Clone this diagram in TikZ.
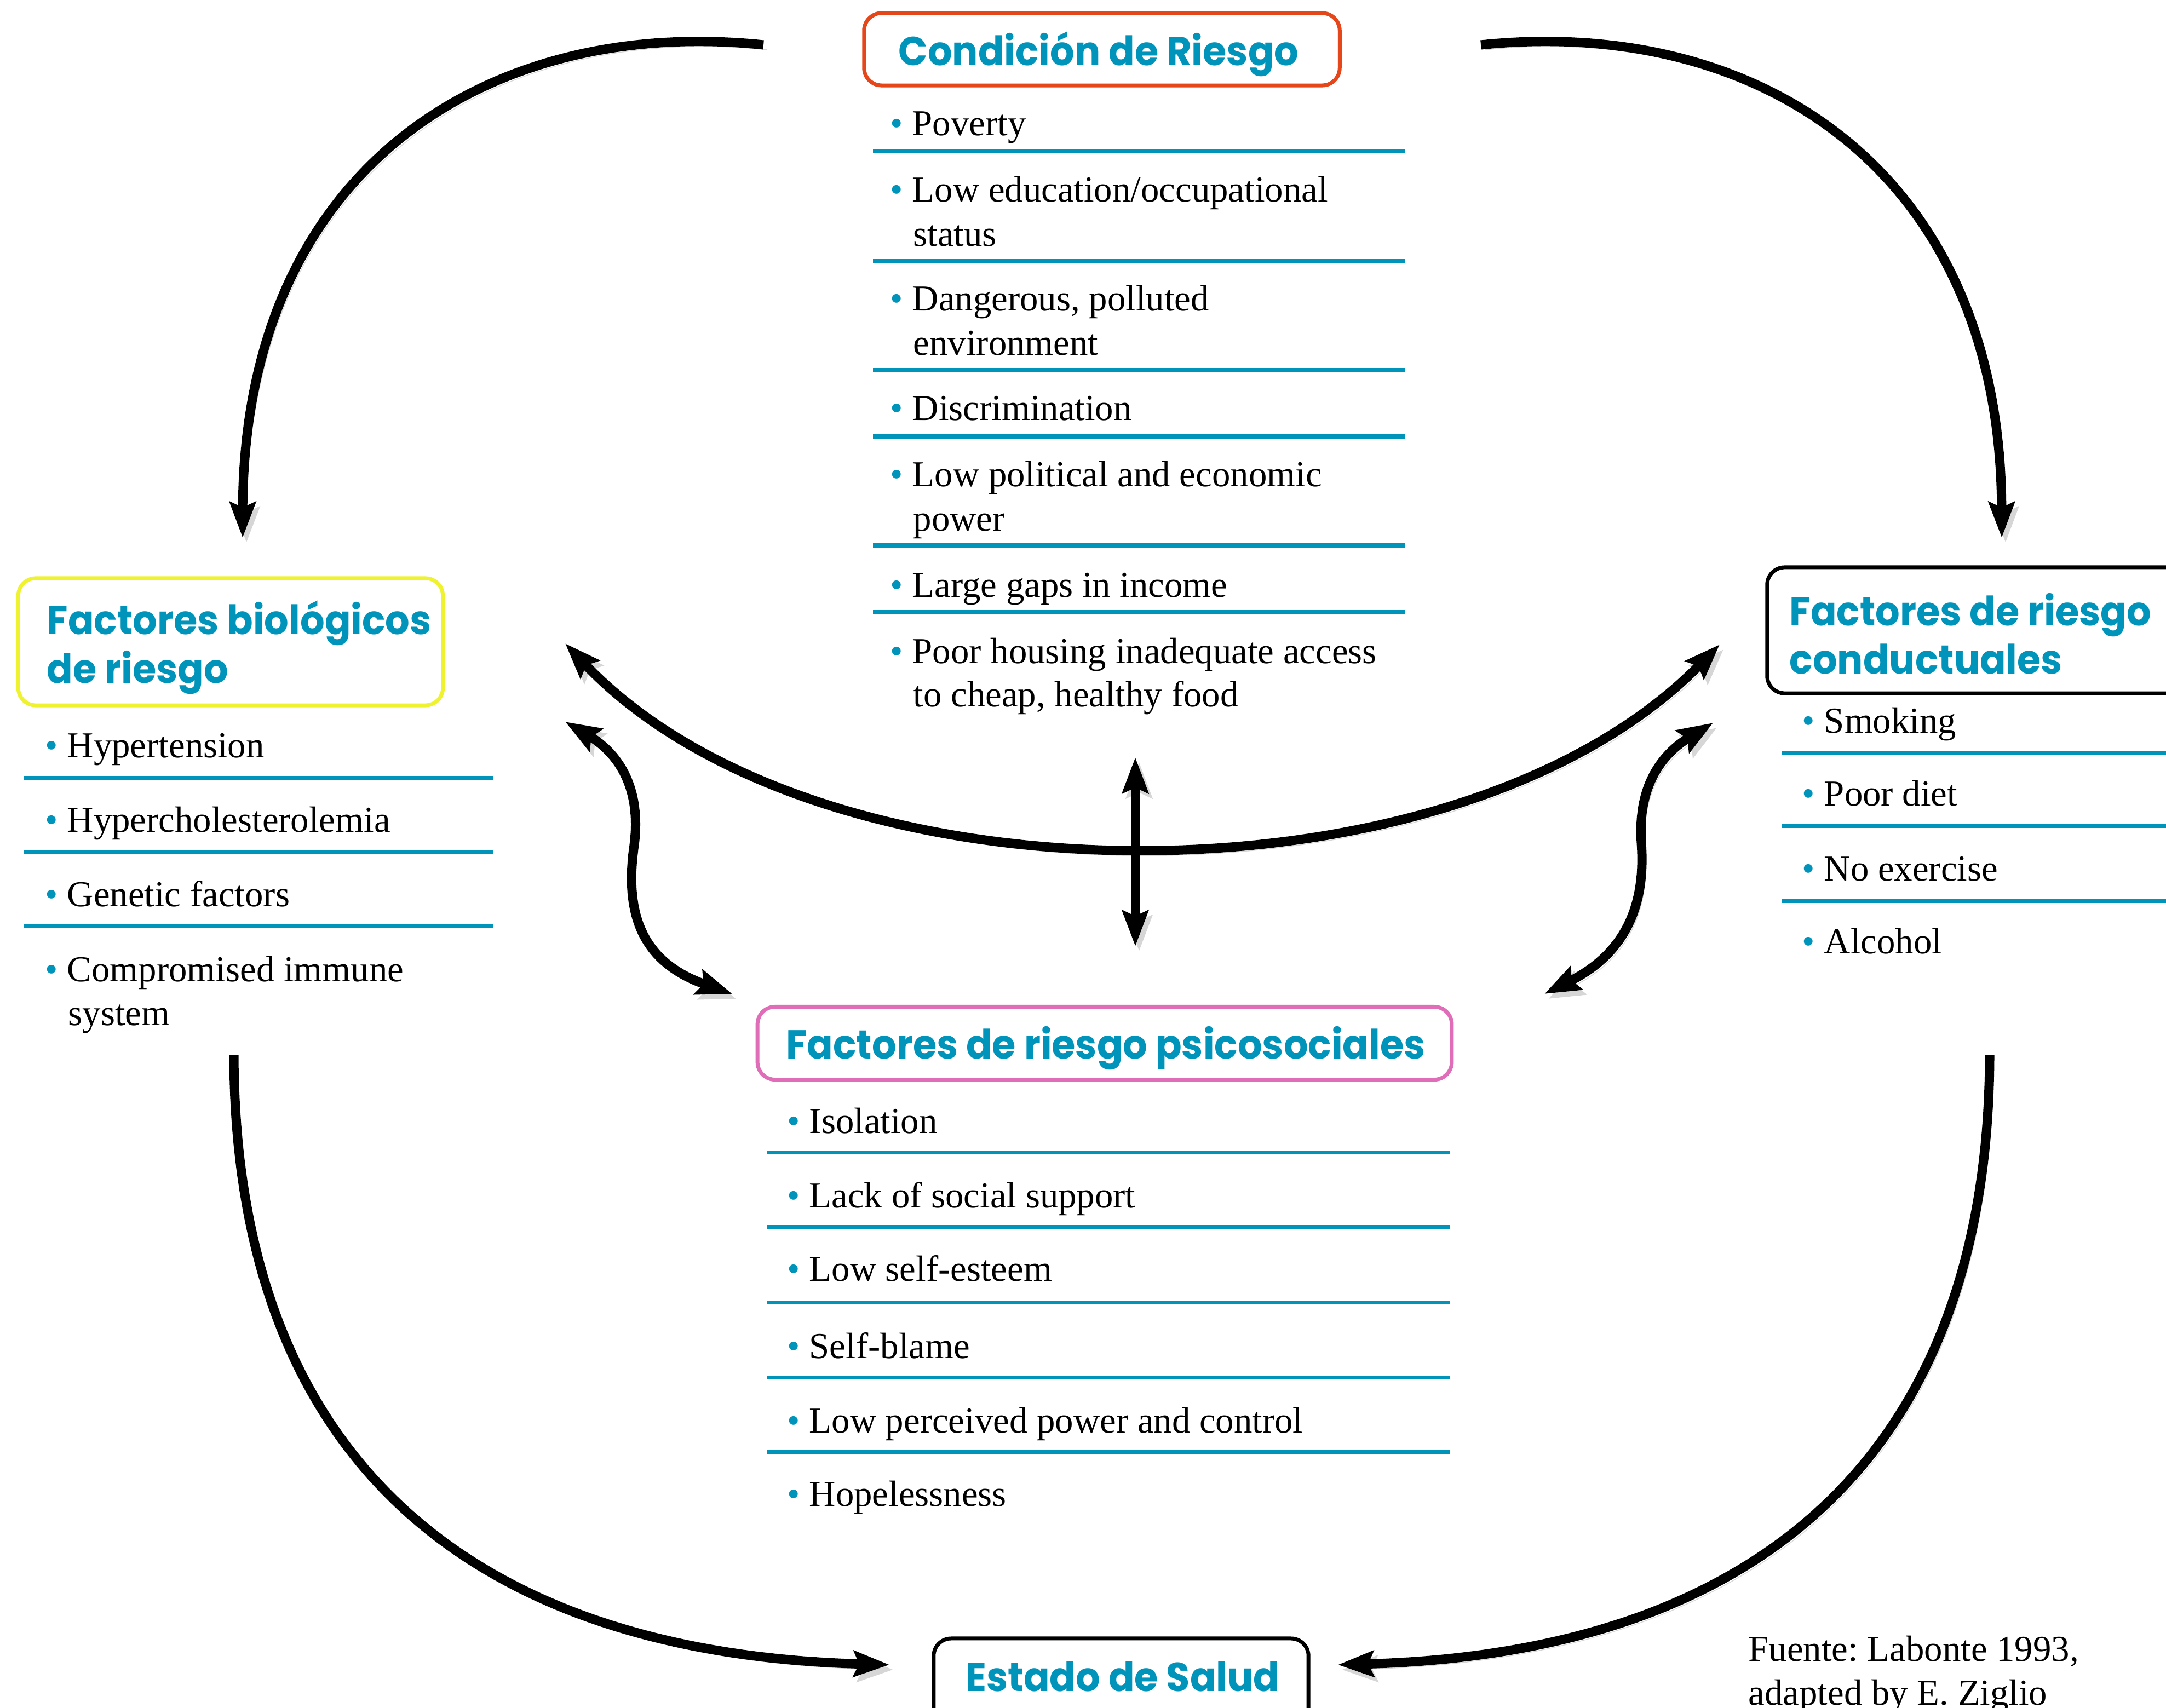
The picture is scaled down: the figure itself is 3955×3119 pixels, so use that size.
\documentclass[tikz,border=0pt]{standalone}
\usepackage{fontspec}
\setmainfont{Liberation Serif}
\newfontfamily\headfont{Poppins}[FakeStretch=0.95]
\usetikzlibrary{arrows.meta}
\definecolor{hc}{RGB}{0,148,187}
\definecolor{orangeC}{RGB}{229,70,26}
\definecolor{yellowC}{RGB}{239,243,47}
\definecolor{pinkC}{RGB}{224,109,184}
\newcommand{\bul}{{\color{hc}•}\ }
\frenchspacing
\begin{document}
\begin{tikzpicture}[x=0.01cm,y=-0.01cm,
  boxst/.style={line width=0.07cm, rounded corners=0.32cm, inner sep=0, fill=white},
  headst/.style={font=\headfont\bfseries\fontsize{21}{25}\selectfont, text=hc, inner sep=0},
  itemst/.style={font=\fontsize{19}{23}\selectfont, inner sep=0, anchor=base west},
  sepst/.style={draw=hc, line width=0.07cm},
  shadowed/.style={preaction={draw=black!16, transform canvas={shift={(0.07cm,-0.09cm)}}}},
  arr/.style={line width=0.17cm, -{Stealth[length=0.65cm,width=0.47cm,inset=0.1cm]}, shadowed},
  darr/.style={line width=0.17cm, {Stealth[length=0.65cm,width=0.47cm,inset=0.1cm]}-{Stealth[length=0.65cm,width=0.47cm,inset=0.1cm]}, shadowed}]
\useasboundingbox (0,0) rectangle (3955,3119);
\clip (0,0) rectangle (3955,3119);

% ---------- Condicion de Riesgo ----------
\node[boxst, draw=orangeC, minimum width=8.68cm, minimum height=1.32cm] (cbox) at (2012,90) {};
\node[headst, anchor=base] (ctitle) at (2006,120) {Condición de Riesgo};
\node[itemst] (c1) at (1625,248) {\bul Poverty};
\node[itemst] (c2) at (1625,369) {\bul Low education/occupational};
\node[itemst] (c2b) at (1667,450) {status};
\node[itemst] (c3) at (1625,568) {\bul Dangerous, polluted};
\node[itemst] (c3b) at (1667,649) {environment};
\node[itemst] (c4) at (1625,768) {\bul Discrimination};
\node[itemst] (c5) at (1625,889) {\bul Low political and economic};
\node[itemst] (c5b) at (1667,969) {power};
\node[itemst] (c6) at (1625,1090) {\bul Large gaps in income};
\node[itemst] (c7) at (1625,1211) {\bul Poor housing inadequate access};
\node[itemst] (c7b) at (1667,1290) {to cheap, healthy food};
\foreach \yy in {277,477,676,797,996,1117} \draw[sepst] (1594,\yy) -- (2566,\yy);

% ---------- Factores biologicos ----------
\node[boxst, draw=yellowC, minimum width=7.75cm, minimum height=2.32cm] (bbox) at (421,1172) {};
\node[headst, anchor=base west] (btitle1) at (85,1158) {Factores biológicos};
\node[headst, anchor=base west] (btitle2) at (85,1247) {de riesgo};
\node[itemst] (b1) at (82,1383) {\bul Hypertension};
\node[itemst] (b2) at (82,1519) {\bul Hypercholesterolemia};
\node[itemst] (b3) at (82,1655) {\bul Genetic factors};
\node[itemst] (b4) at (82,1792) {\bul Compromised immune};
\node[itemst] (b4b) at (124,1872) {system};
\foreach \yy in {1420,1556,1690} \draw[sepst] (44,\yy) -- (900,\yy);

% ---------- Factores conductuales ----------
\node[boxst, draw=black, minimum width=10cm, minimum height=2.30cm] (kbox) at (3727,1151) {};
\node[headst, anchor=base west] (ktitle1) at (3267,1142) {Factores de riesgo};
\node[headst, anchor=base west] (ktitle2) at (3267,1230) {conductuales};
\node[itemst] (k1) at (3290,1338) {\bul Smoking};
\node[itemst] (k2) at (3290,1471) {\bul Poor diet};
\node[itemst] (k3) at (3290,1608) {\bul No exercise};
\node[itemst] (k4) at (3290,1741) {\bul Alcohol};
\foreach \yy in {1375,1508,1645} \draw[sepst] (3254,\yy) -- (3960,\yy);

% ---------- Factores psicosociales ----------
\node[boxst, draw=pinkC, minimum width=12.67cm, minimum height=1.33cm] (pbox) at (2017,1905) {};
\node[headst, anchor=base] (ptitle) at (2019,1933) {Factores de riesgo psicosociales};
\node[itemst] (p1) at (1437,2069) {\bul Isolation};
\node[itemst] (p2) at (1437,2205) {\bul Lack of social support};
\node[itemst] (p3) at (1437,2339) {\bul Low self-esteem};
\node[itemst] (p4) at (1437,2480) {\bul Self-blame};
\node[itemst] (p5) at (1437,2616) {\bul Low perceived power and control};
\node[itemst] (p6) at (1437,2750) {\bul Hopelessness};
\foreach \yy in {2104,2240,2378,2515,2651} \draw[sepst] (1400,\yy) -- (2648,\yy);

% ---------- Estado de Salud ----------
\node[boxst, draw=black, minimum width=6.84cm, minimum height=2.1cm] (ebox) at (2047,3097) {};
\node[headst, anchor=base] (etitle) at (2050,3088) {Estado de Salud};

% ---------- Source ----------
\node[itemst] (src1) at (3192,3033) {Fuente: Labonte 1993,};
\node[itemst] (src2) at (3192,3113) {adapted by E. Ziglio};

% ---------- Arrows ----------
\coordinate (a1s) at (1394,82);  \coordinate (a1e) at (443,982);
\coordinate (a2s) at (2704,82);  \coordinate (a2e) at (3655,982);
\coordinate (a3s) at (427,1927); \coordinate (a3e) at (1624,3040);
\coordinate (a4s) at (3633,1927);\coordinate (a4e) at (2443,3040);
\coordinate (a5s) at (1032,1175);\coordinate (a5e) at (3140,1177);
\coordinate (a6s) at (2073,1383);\coordinate (a6e) at (2073,1728);
\coordinate (a7s) at (1032,1318);\coordinate (a7e) at (1337,1815);
\coordinate (a8s) at (3128,1320);\coordinate (a8e) at (2820,1815);

\draw[arr] (a1s) .. controls (900,30) and (445,300) .. (a1e);
\draw[arr] (a2s) .. controls (3198,30) and (3653,300) .. (a2e);
\draw[arr] (a3s) .. controls (430,2700) and (900,3020) .. (a3e);
\draw[arr] (a4s) .. controls (3630,2700) and (3164,3020) .. (a4e);
\draw[darr] (a5s) .. controls (1500,1667) and (2660,1667) .. (a5e);
\draw[darr] (a6s) -- (a6e);
\draw[darr] (a7s) .. controls (1120,1370) and (1175,1430) .. (1157,1550)
            .. controls (1140,1680) and (1180,1760) .. (a7e);
\draw[darr] (a8s) .. controls (3030,1380) and (2990,1440) .. (2997,1540)
            .. controls (3005,1650) and (2970,1740) .. (a8e);
\end{tikzpicture}
\end{document}
